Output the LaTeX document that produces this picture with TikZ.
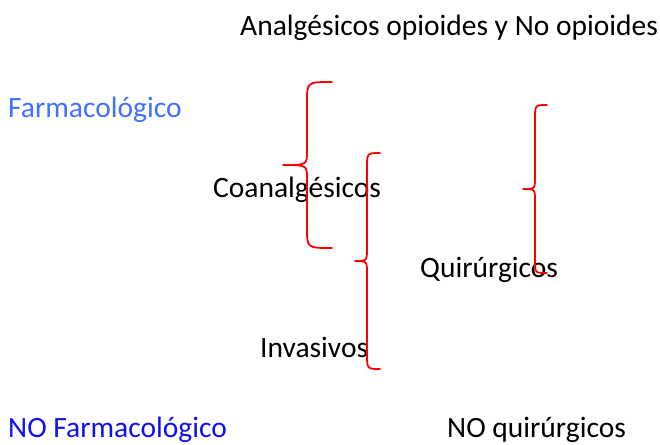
\documentclass[tikz,border=0pt]{standalone}
\usepackage{fontspec}
\setmainfont{Carlito}
\definecolor{farmblue}{RGB}{66,112,255}
\definecolor{nofarmblue}{RGB}{16,16,240}
\begin{document}
\begin{tikzpicture}[x=1pt,y=-1pt,
  lbl/.style={anchor=base west,inner sep=0pt,font=\fontsize{29.5}{35}\selectfont},
  bracepath/.style={draw=red,line width=1.8pt,line cap=round,line join=round}]
\useasboundingbox (0,0) rectangle (660,444);
\node[lbl] (t1) at (240,36) {Analgésicos opioides y No opioides};
\node[lbl,text=farmblue] (t2) at (8,117) {Farmacológico};
\node[lbl] (t3) at (213,197) {Coanalgésicos};
\node[lbl] (t4) at (420,277) {Quirúrgicos};
\node[lbl] (t5) at (260,357) {Invasivos};
\node[lbl,text=nofarmblue] (t6) at (8,437) {NO Farmacológico};
\node[lbl] (t7) at (447,437) {NO quirúrgicos};
% brace 1
\draw[bracepath] (332,82) .. controls (307,82) .. (307,102) -- (307,151)
  .. controls (307,165) .. (283,165) .. controls (307,165) .. (307,179)
  -- (307,228) .. controls (307,248) .. (332,248);
% brace 2
\draw[bracepath] (380,153) .. controls (367,153) .. (367,168) -- (367,248)
  .. controls (367,261) .. (355,261) .. controls (367,261) .. (367,274)
  -- (367,354) .. controls (367,369) .. (380,369);
% brace 3
\draw[bracepath] (547,105) .. controls (535,105) .. (535,119) -- (535,177)
  .. controls (535,189) .. (523,189) .. controls (535,189) .. (535,201)
  -- (535,261) .. controls (535,273) .. (547,273);
\end{tikzpicture}
\end{document}
